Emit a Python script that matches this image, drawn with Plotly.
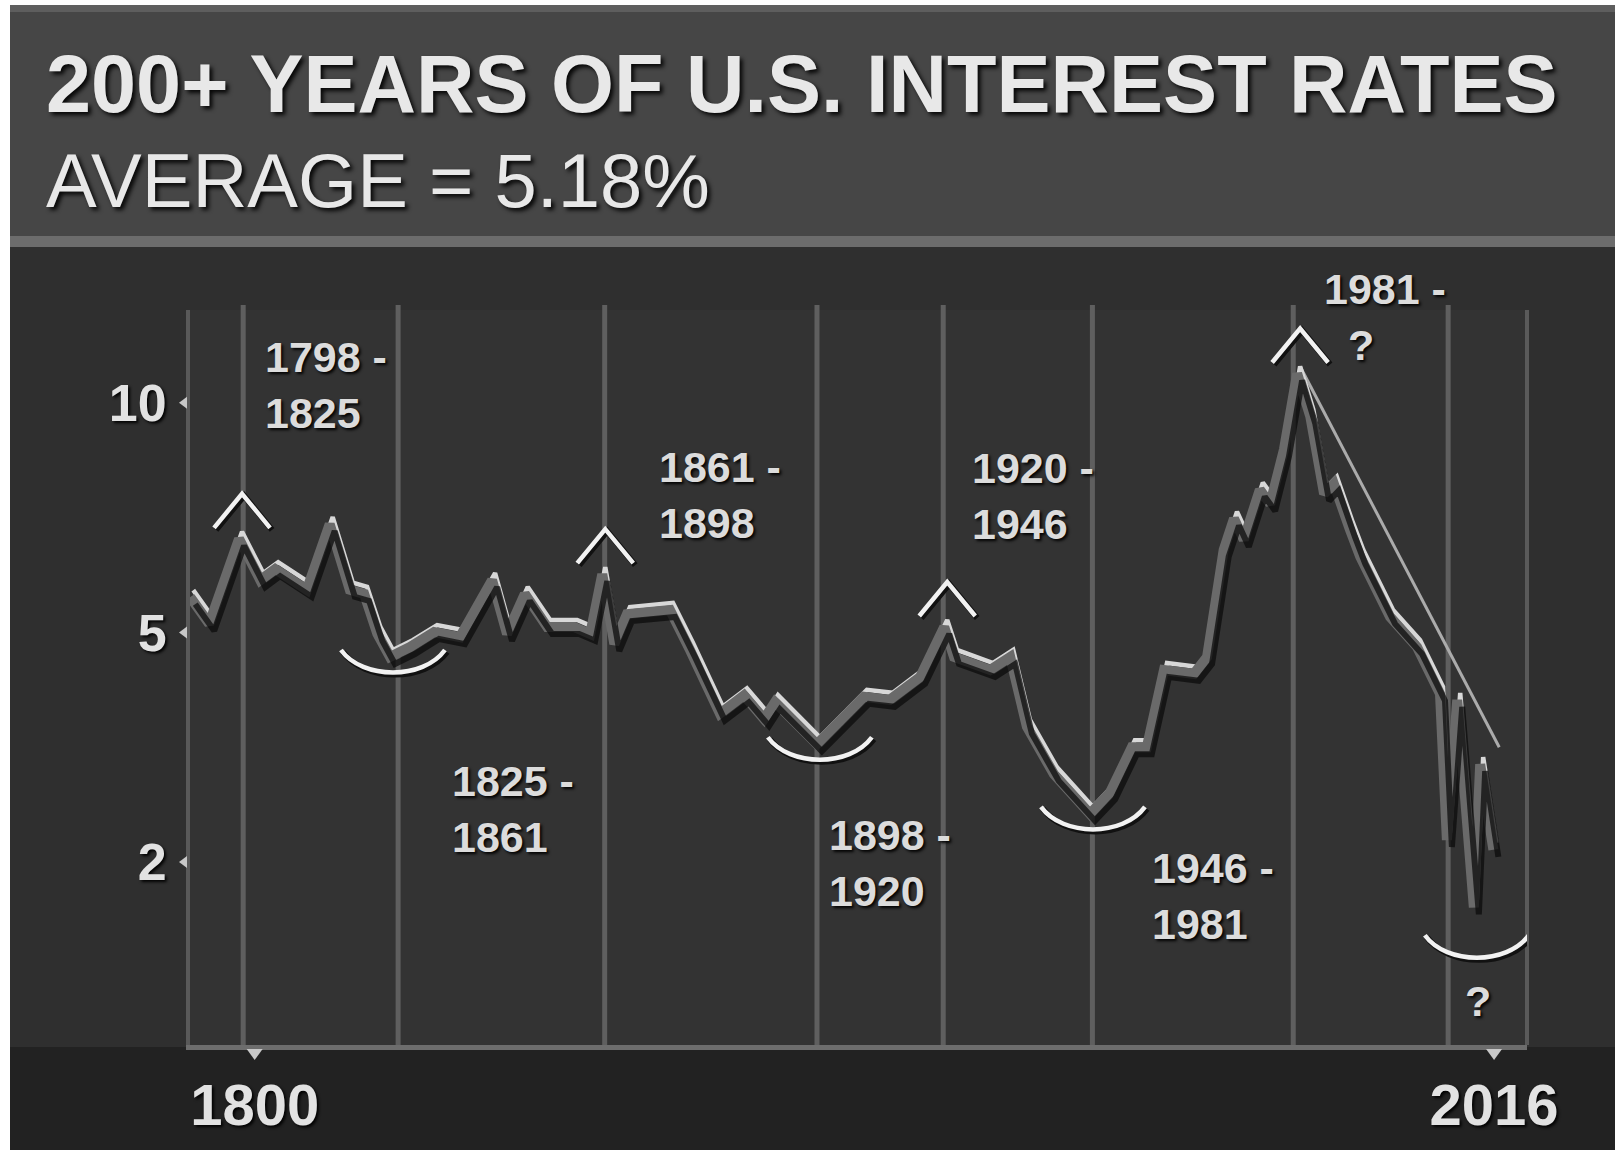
import numpy as np
import plotly.graph_objects as go

# ---------------------------------------------------------------------------
# Data: long-run U.S. interest rate (percent) by year
# ---------------------------------------------------------------------------
years = [1789.3, 1792.6, 1797.8, 1801.5, 1804.1, 1809.6, 1813.6, 1817.1, 1819.6, 1821.9,
         1824.1, 1827.6, 1831.8, 1836.3, 1841.9, 1844.5, 1847.6, 1851.5, 1856.2, 1859.0,
         1861.1, 1863.2, 1865.4, 1872.9, 1876.4, 1881.6, 1885.8, 1889.3, 1891.2, 1898.5,
         1906.7, 1911.2, 1916.5, 1920.7, 1922.4, 1925.9, 1928.7, 1932.2, 1935.1, 1939.8,
         1946.1, 1949.6, 1953.4, 1956.0, 1959.0, 1964.2, 1966.5, 1969.4, 1971.2, 1972.9,
         1975.7, 1977.5, 1979.9, 1982.2, 1984.5, 1986.9, 1988.6, 1991.4, 1993.2, 1998.4,
         2003.1, 2007.1, 2008.3, 2010.1, 2013.0, 2014.1, 2016.4]
rates = [5.92, 5.34, 7.19, 6.29, 6.53, 6.08, 7.51, 6.08, 5.99, 5.12,
         4.77, 4.90, 5.16, 5.05, 6.29, 5.12, 5.99, 5.27, 5.27, 5.12,
         6.42, 4.94, 5.55, 5.64, 4.86, 4.03, 4.27, 3.96, 4.18, 3.63,
         4.25, 4.21, 4.51, 5.27, 4.77, 4.68, 4.60, 4.77, 3.86, 3.24,
         2.72, 3.00, 3.59, 3.59, 4.60, 4.55, 4.77, 6.95, 7.63, 7.17,
         8.26, 7.95, 9.13, 10.79, 9.85, 8.17, 8.39, 7.39, 6.80, 5.49,
         4.90, 4.29, 2.38, 4.21, 1.50, 3.37, 2.25]

# Straight decline line drawn from the 1981 high
trend_years = [1982.2, 2016.9]
trend_rates = [10.79, 3.50]

# Cycle boundaries, highs and lows
period_years = [1798, 1825, 1861, 1898, 1920, 1946, 1981, 2008]
peak_years = [1798, 1861, 1920, 1981]
trough_years = [1825, 1898, 1946, 2013]
period_labels = ["1798 -<br>1825", "1825 -<br>1861", "1861 -<br>1898",
                 "1898 -<br>1920", "1920 -<br>1946", "1946 -<br>1981",
                 "1981 -<br>\u00a0\u00a0?"]

# Axis ticks
y_tick_rates = [2, 5, 10]
x_tick_years = [1800, 2016]
x_tick_text = ["1800", "2016"]

TITLE = "200+ YEARS OF U.S. INTEREST RATES"
SUBTITLE = "AVERAGE = 5.18%"

# ---------------------------------------------------------------------------
# Value scale: the rate axis is piecewise linear between its labelled ticks
# (2, 5 and 10 are evenly spaced), extended linearly past either end.
# ---------------------------------------------------------------------------
SCALE_POS = [0.0, 1.0, 2.0]


def to_axis(r):
    r = np.asarray(r, dtype=float)
    u = np.interp(r, y_tick_rates, SCALE_POS)
    u = np.where(r < y_tick_rates[0], (r - 2.0) / 3.0, u)
    u = np.where(r > y_tick_rates[-1], 2.0 + (r - 10.0) / 5.0, u)
    return u


years_arr = np.asarray(years)
rates_arr = np.asarray(rates)
u_rates = to_axis(rates)

# ---------------------------------------------------------------------------
# Geometry / style
# ---------------------------------------------------------------------------
W, H = 1615, 1150
ML, MR, MT, MB = 190, 88, 310, 105
PW, PH = W - ML - MR, H - MT - MB

X_RANGE = [1788.73, 2021.74]
Y_RANGE = [-0.797, 2.404]
PX_PER_YEAR = PW / (X_RANGE[1] - X_RANGE[0])
PX_PER_U = PH / (Y_RANGE[1] - Y_RANGE[0])


def paper_x(px):
    return (px - ML) / PW


def paper_y(py):
    return (H - MB - py) / PH


def shifted(rng, px, per_px):
    return [rng[0] + px / per_px, rng[1] + px / per_px]


FONT = "'Liberation Sans', Arial, sans-serif"
SHADOW = "2px 2px 3px rgba(0,0,0,0.95)"
TEXT_COL = "#dcdcdc"

fig = go.Figure()

# black drop shadow of the rate line
fig.add_trace(go.Scatter(
    x=years, y=u_rates, xaxis="x3", yaxis="y3", mode="lines",
    line=dict(color="#0c0c0c", width=6), opacity=0.75, hoverinfo="skip",
    showlegend=False))
# grey ribbon under the rate line
fig.add_trace(go.Scatter(
    x=years, y=u_rates, xaxis="x2", yaxis="y2", mode="lines",
    line=dict(color="#6a6a6a", width=10), hoverinfo="skip", showlegend=False))
# decline line from the 1981 high
fig.add_trace(go.Scatter(
    x=trend_years, y=to_axis(trend_rates), mode="lines",
    line=dict(color="#ababab", width=3), hoverinfo="skip", showlegend=False))
# the rate line itself
fig.add_trace(go.Scatter(
    x=years, y=u_rates, mode="lines",
    line=dict(color="#d8d8d8", width=4.5), hoverinfo="skip", showlegend=False))

shapes = []
# page background blocks
shapes += [
    dict(type="rect", xref="paper", yref="paper", layer="below",
         x0=paper_x(10), x1=paper_x(W), y0=paper_y(5), y1=paper_y(H),
         fillcolor="#2f2f2f", line_width=0),
    dict(type="rect", xref="paper", yref="paper", layer="below",
         x0=paper_x(10), x1=paper_x(W), y0=paper_y(5), y1=paper_y(246),
         fillcolor="#464646", line_width=0),
    dict(type="rect", xref="paper", yref="paper", layer="below",
         x0=paper_x(10), x1=paper_x(W), y0=paper_y(5), y1=paper_y(12),
         fillcolor="#5e5e5e", line_width=0),
    dict(type="rect", xref="paper", yref="paper", layer="below",
         x0=paper_x(10), x1=paper_x(W), y0=paper_y(236), y1=paper_y(247),
         fillcolor="#6c6c6c", line_width=0),
    dict(type="rect", xref="paper", yref="paper", layer="below",
         x0=paper_x(10), x1=paper_x(W), y0=paper_y(1047), y1=paper_y(H),
         fillcolor="#222222", line_width=0),
    dict(type="rect", xref="paper", yref="paper", layer="below",
         x0=0, x1=1, y0=0, y1=1, fillcolor="#333333", line_width=0),
]

# cycle boundary lines
for yr in period_years:
    shapes.append(dict(type="line", xref="x", yref="paper", layer="below",
                       x0=yr, x1=yr, y0=0, y1=paper_y(305),
                       line=dict(color="#5f5f5f", width=5)))
# right frame line
shapes.append(dict(type="line", xref="paper", yref="paper", layer="below",
                   x0=1, x1=1, y0=0, y1=paper_y(310),
                   line=dict(color="#5a5a5a", width=4)))

# small triangular tick marks
for u in to_axis(y_tick_rates):
    shapes.append(dict(type="path", xref="paper", xsizemode="pixel", xanchor=0,
                       yref="y", ysizemode="pixel", yanchor=float(u),
                       path="M -3,6 L -11,0 L -3,-6 Z",
                       fillcolor="#c8c8c8", line_width=0, layer="above"))
for yr in x_tick_years:
    shapes.append(dict(type="path", xref="x", xsizemode="pixel", xanchor=yr,
                       yref="paper", ysizemode="pixel", yanchor=0,
                       path="M -8,-4 L 8,-4 L 0,-15 Z",
                       fillcolor="#c8c8c8", line_width=0, layer="above"))


def extreme_index(yr, pick):
    idx = np.where(np.abs(years_arr - yr) <= 3)[0]
    return int(idx[pick(rates_arr[idx])])


# chevrons over the highs
for yr in peak_years:
    i = extreme_index(yr, np.argmax)
    for dx, dy, col, w in [(2, -2, "#111111", 6), (0, 0, "#f2f2f2", 4.5)]:
        shapes.append(dict(type="path", xref="x", xsizemode="pixel", xanchor=years[i],
                           yref="y", ysizemode="pixel", yanchor=float(u_rates[i]),
                           path=f"M {-28+dx},{4+dy} L {dx},{38+dy} L {28+dx},{4+dy}",
                           line=dict(color=col, width=w), layer="above"))

# arcs under the lows (the last one sits below the recent streaks)
trough_drop = [0, 0, 0, 35]
for yr, d in zip(trough_years, trough_drop):
    i = extreme_index(yr, np.argmin)
    for dx, dy, col, w in [(2, -2, "#111111", 6), (0, 0, "#f2f2f2", 4.5)]:
        a = -d + dy
        shapes.append(dict(type="path", xref="x", xsizemode="pixel", xanchor=years[i],
                           yref="y", ysizemode="pixel", yanchor=float(u_rates[i]),
                           path=(f"M {-52+dx},{a} C {-30+dx},{a-30} {30+dx},{a-30} "
                                 f"{52+dx},{a}"),
                           line=dict(color=col, width=w), layer="above"))

# ---------------------------------------------------------------------------
# Text
# ---------------------------------------------------------------------------
annotations = [
    dict(text=f"<b>{TITLE}</b>", xref="paper", yref="paper",
         x=paper_x(44), y=paper_y(84), xanchor="left", yanchor="middle",
         showarrow=False,
         font=dict(family=FONT, size=81, color="#e8e8e8",
                   shadow="3px 3px 4px rgba(0,0,0,0.9)")),
    dict(text=SUBTITLE, xref="paper", yref="paper",
         x=paper_x(44), y=paper_y(181), xanchor="left", yanchor="middle",
         showarrow=False,
         font=dict(family=FONT, size=76, color="#e8e8e8",
                   shadow="3px 3px 4px rgba(0,0,0,0.9)")),
]

# label positions in page pixels: left edge and vertical centre of the two lines
label_pos = [(263, 385), (450, 809), (657, 495), (827, 863),
             (970, 496), (1150, 896), (1322, 317)]
label_font = dict(family=FONT, size=43, color=TEXT_COL, weight="bold", shadow=SHADOW)
for text, (lx, cy) in zip(period_labels, label_pos):
    annotations.append(dict(text=text, xref="paper", yref="paper",
                            x=paper_x(lx), y=paper_y(cy), xanchor="left",
                            yanchor="middle", align="left", showarrow=False,
                            font=label_font))
# open question under the latest low
annotations.append(dict(text="?", xref="paper", yref="paper",
                        x=paper_x(1478), y=paper_y(1001), xanchor="center",
                        yanchor="middle", showarrow=False, font=label_font))

tick_font_x = dict(family=FONT, size=58, color="#e2e2e2", weight="bold", shadow=SHADOW)
tick_font_y = dict(family=FONT, size=52, color="#e2e2e2", weight="bold", shadow=SHADOW)

axis_common = dict(showgrid=False, zeroline=False, fixedrange=True, automargin=False)

fig.update_layout(
    width=W, height=H,
    margin=dict(l=ML, r=MR, t=MT, b=MB, pad=0, autoexpand=False),
    paper_bgcolor="#ffffff",
    plot_bgcolor="rgba(0,0,0,0)",
    showlegend=False,
    xaxis=dict(range=X_RANGE, tickvals=x_tick_years, ticktext=x_tick_text,
               ticks="", tickfont=tick_font_x, ticklabelstandoff=5,
               showline=True, linecolor="#6d6d6d", linewidth=5, **axis_common),
    yaxis=dict(range=Y_RANGE, tickvals=list(to_axis(y_tick_rates)),
               ticktext=[str(v) for v in y_tick_rates],
               ticks="", tickfont=tick_font_y, ticklabelstandoff=9,
               showline=True, linecolor="#595959", linewidth=4, **axis_common),
    # overlay axes used to offset the ribbon and the drop shadow by a few pixels
    xaxis2=dict(range=shifted(X_RANGE, 3, PX_PER_YEAR), overlaying="x",
                visible=False, **axis_common),
    yaxis2=dict(range=shifted(Y_RANGE, 7, PX_PER_U), overlaying="y",
                visible=False, **axis_common),
    xaxis3=dict(range=shifted(X_RANGE, -2, PX_PER_YEAR), overlaying="x",
                visible=False, **axis_common),
    yaxis3=dict(range=shifted(Y_RANGE, 14, PX_PER_U), overlaying="y",
                visible=False, **axis_common),
    shapes=shapes,
    annotations=annotations,
)

fig.write_html("out.html", config=dict(displayModeBar=False, staticPlot=True))
